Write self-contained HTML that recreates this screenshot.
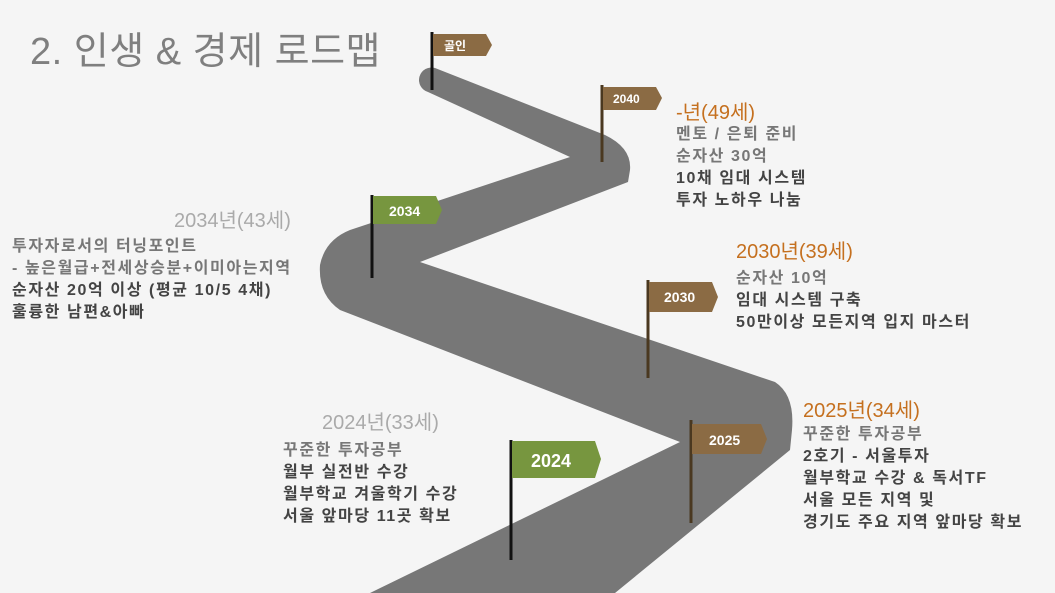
<!DOCTYPE html>
<html><head><meta charset="utf-8"><style>
body{margin:0;width:1055px;height:593px;background:#f5f5f5;position:relative;overflow:hidden;font-family:"Liberation Sans","Noto Sans CJK KR",sans-serif}
.t{position:absolute;white-space:nowrap}
.b{font-weight:bold;color:#444;font-size:16px;line-height:22px;letter-spacing:1.6px}
.g{color:#777}
.h{font-size:20px;color:#aaa}
.o{font-size:20px;color:#c5701f}
</style></head><body>
<svg width="1055" height="593" style="position:absolute;left:0;top:0">
<path d="M435,68 L605,135 Q632,148 630,170 L628,182 L420,262 L775,382 Q795,395 792,430 L790,450 L615,593 L370,593 L680,442 L340,310 Q318,295 320,265 Q325,240 350,230 L570,157 L428,92 A12,12 0 0 1 435,68 Z" fill="#777"/>
<g font-family="Liberation Sans,Noto Sans CJK KR,sans-serif" font-weight="bold" fill="#fff">
<line x1="432" y1="32" x2="432" y2="90" stroke="#111" stroke-width="3"/>
<path d="M433,34 H486 L492,45 L486,56 H433 Z" fill="#8b6b44"/><text x="444" y="50" font-size="12">골인</text>
<line x1="602" y1="85" x2="602" y2="162" stroke="#4a3820" stroke-width="3"/>
<path d="M603,87 H656 L662,98 L656,110 H603 Z" fill="#8b6b44"/><text x="613" y="103" font-size="12">2040</text>
<line x1="372" y1="195" x2="372" y2="278" stroke="#111" stroke-width="3"/>
<path d="M373,196 H436 L442,210 L436,224 H373 Z" fill="#77963f"/><text x="389" y="216" font-size="14">2034</text>
<line x1="648" y1="280" x2="648" y2="378" stroke="#4a3820" stroke-width="3"/>
<path d="M649,282 H712 L718,297 L712,312 H649 Z" fill="#8b6b44"/><text x="664" y="302" font-size="14">2030</text>
<line x1="691" y1="420" x2="691" y2="523" stroke="#4a3820" stroke-width="3"/>
<path d="M692,424 H761 L767,439 L761,454 H692 Z" fill="#8b6b44"/><text x="709" y="445" font-size="14">2025</text>
<line x1="511" y1="440" x2="511" y2="560" stroke="#111" stroke-width="3"/>
<path d="M512,441 H595 L601,459 L595,478 H512 Z" fill="#77963f"/><text x="531" y="467" font-size="18">2024</text>
</g></svg>
<div class="t" style="left:30px;top:20px;font-size:38px;color:#7f7f7f;letter-spacing:0.5px">2. 인생 &amp; 경제 로드맵</div>

<div class="t o" style="left:676px;top:96px">-년(49세)</div>
<div class="t b" style="left:676px;top:124px"><span class="g">멘토 / 은퇴 준비<br>순자산 30억</span><br>10채 임대 시스템<br>투자 노하우 나눔</div>

<div class="t h" style="left:174px;top:204px">2034년(43세)</div>
<div class="t b" style="left:12px;top:236px"><span class="g">투자자로서의 터닝포인트<br>- 높은월급+전세상승분+이미아는지역</span><br>순자산 20억 이상 (평균 10/5 4채)<br>훌륭한 남편&amp;아빠</div>

<div class="t o" style="left:736px;top:235px">2030년(39세)</div>
<div class="t b" style="left:736px;top:268px"><span class="g">순자산 10억</span><br>임대 시스템 구축<br>50만이상 모든지역 입지 마스터</div>

<div class="t o" style="left:803px;top:394px">2025년(34세)</div>
<div class="t b" style="left:803px;top:424px"><span class="g">꾸준한 투자공부</span><br>2호기 - 서울투자<br>월부학교 수강 &amp; 독서TF<br>서울 모든 지역 및<br>경기도 주요 지역 앞마당 확보</div>

<div class="t h" style="left:322px;top:406px">2024년(33세)</div>
<div class="t b" style="left:283px;top:440px"><span class="g">꾸준한 투자공부</span><br>월부 실전반 수강<br>월부학교 겨울학기 수강<br>서울 앞마당 11곳 확보</div>
</body></html>
